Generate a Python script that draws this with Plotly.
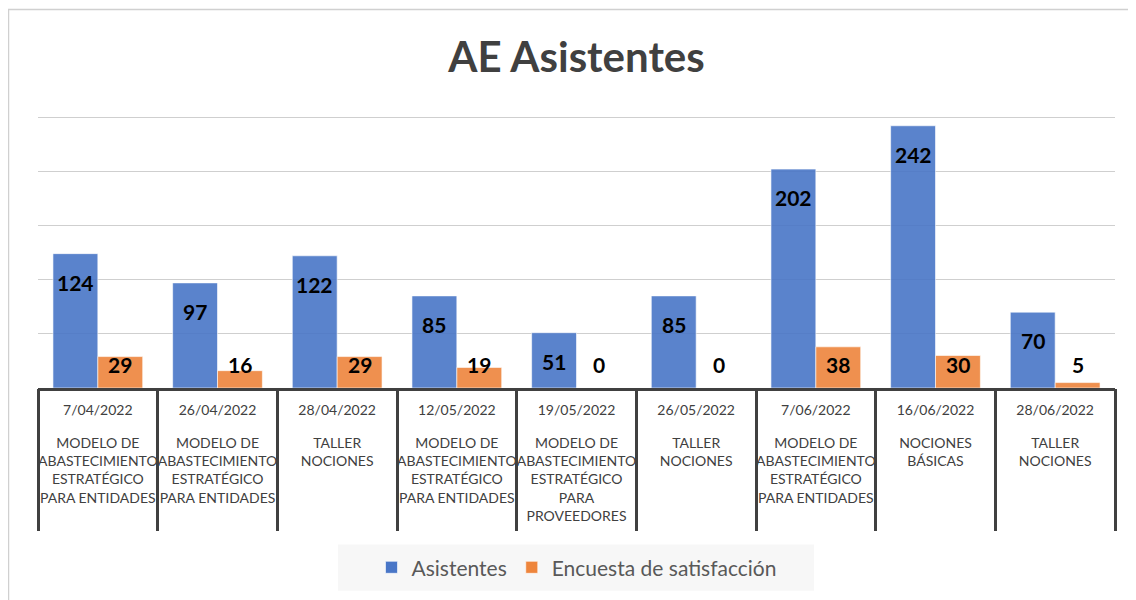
import plotly.graph_objects as go

fechas = ["7/04/2022", "26/04/2022", "28/04/2022", "12/05/2022", "19/05/2022",
          "26/05/2022", "7/06/2022", "16/06/2022", "28/06/2022"]
cursos = [
    "MODELO DE<br>ABASTECIMIENTO<br>ESTRATÉGICO<br>PARA ENTIDADES",
    "MODELO DE<br>ABASTECIMIENTO<br>ESTRATÉGICO<br>PARA ENTIDADES",
    "TALLER<br>NOCIONES",
    "MODELO DE<br>ABASTECIMIENTO<br>ESTRATÉGICO<br>PARA ENTIDADES",
    "MODELO DE<br>ABASTECIMIENTO<br>ESTRATÉGICO<br>PARA<br>PROVEEDORES",
    "TALLER<br>NOCIONES",
    "MODELO DE<br>ABASTECIMIENTO<br>ESTRATÉGICO<br>PARA ENTIDADES",
    "NOCIONES<br>BÁSICAS",
    "TALLER<br>NOCIONES",
]
asistentes = [124, 97, 122, 85, 51, 85, 202, 242, 70]
encuesta = [29, 16, 29, 19, 0, 0, 38, 30, 5]

FONT = "Lato"
AZUL = "#4976C7"
NARANJA = "#EE853C"
GRIS = "#404040"

n = len(fechas)
idx = list(range(n))

fig = go.Figure()
fig.add_trace(go.Bar(
    x=fechas, y=asistentes, name="Asistentes",
    marker=dict(color=AZUL, opacity=0.9, line=dict(color="rgba(255,255,255,0.6)", width=1)),
))
fig.add_trace(go.Bar(
    x=fechas, y=encuesta, name="Encuesta de satisfacción",
    marker=dict(color=NARANJA, opacity=0.9, line=dict(color="rgba(255,255,255,0.6)", width=1)),
))
# trazas vacías para que se dibujen los ejes auxiliares (separadores, fechas, cursos)
for ax in ["x2", "x3", "x4"]:
    fig.add_trace(go.Scatter(x=idx, y=asistentes, xaxis=ax, mode="none",
                             showlegend=False, hoverinfo="skip"))

# etiquetas de datos
for f, a, e in zip(fechas, asistentes, encuesta):
    fig.add_annotation(x=f, y=a, text="<b>%d</b>" % a, showarrow=False,
                       xshift=-22.5, yshift=-14, yanchor="top",
                       font=dict(family=FONT, size=21, color="black"))
    fig.add_annotation(x=f, y=0, text="<b>%d</b>" % e, showarrow=False,
                       xshift=22.5, yshift=9, yanchor="bottom",
                       font=dict(family=FONT, size=21, color="black"))

# marco del gráfico y fondo de la leyenda
fig.add_shape(type="rect", xref="paper", yref="paper",
              x0=-0.0274, x1=1.2, y0=-1.0, y1=1.392,
              line=dict(color="#D0D0D0", width=1.5), layer="below")
fig.add_shape(type="rect", xref="paper", yref="paper",
              x0=0.2786, x1=0.7205, y0=-0.7454, y1=-0.5756,
              fillcolor="#F7F7F7", line=dict(width=0), layer="below")

fig.update_layout(
    width=1136, height=600,
    margin=dict(l=30, r=29, t=108, b=220),
    paper_bgcolor="white", plot_bgcolor="white",
    barmode="group", bargap=0.25, bargroupgap=0,
    title=dict(text="<b>AE Asistentes</b>", x=0.5, xref="paper", y=0.918, yanchor="middle",
               font=dict(family=FONT, size=42, color=GRIS)),
    font=dict(family=FONT, color=GRIS),
    legend=dict(orientation="h", x=0.5, xanchor="center", y=-0.6605, yanchor="middle",
                bgcolor="rgba(0,0,0,0)", font=dict(family=FONT, size=21, color="#595959"),
                itemclick=False),
    showlegend=True,
    xaxis=dict(type="category", range=[-0.5, 8.5], showticklabels=False, ticks="",
               showline=True, linecolor=GRIS, linewidth=3, showgrid=False, fixedrange=True),
    xaxis2=dict(overlaying="x", anchor="y", side="bottom", range=[-0.5, 8.5],
                tickmode="array", tickvals=[i - 0.5 for i in range(n + 1)],
                showticklabels=False, ticks="outside", ticklen=142, tickwidth=3,
                tickcolor=GRIS, showgrid=False, zeroline=False, showline=False),
    xaxis3=dict(overlaying="x", anchor="y", side="bottom", range=[-0.5, 8.5],
                tickmode="array", tickvals=idx, ticktext=fechas, tickangle=0,
                ticks="", ticklabelstandoff=12, showgrid=False, zeroline=False, showline=False,
                tickfont=dict(family=FONT, size=14, color=GRIS)),
    xaxis4=dict(overlaying="x", anchor="y", side="bottom", range=[-0.5, 8.5],
                tickmode="array", tickvals=idx, ticktext=cursos, tickangle=0,
                ticks="", ticklabelstandoff=45, showgrid=False, zeroline=False, showline=False,
                tickfont=dict(family=FONT, size=14, color=GRIS)),
    yaxis=dict(range=[0, 251], dtick=50, showticklabels=False, gridcolor="#CFCFCF",
               gridwidth=1, zeroline=False, showline=False, fixedrange=True),
)

fig.write_html("out.html")
